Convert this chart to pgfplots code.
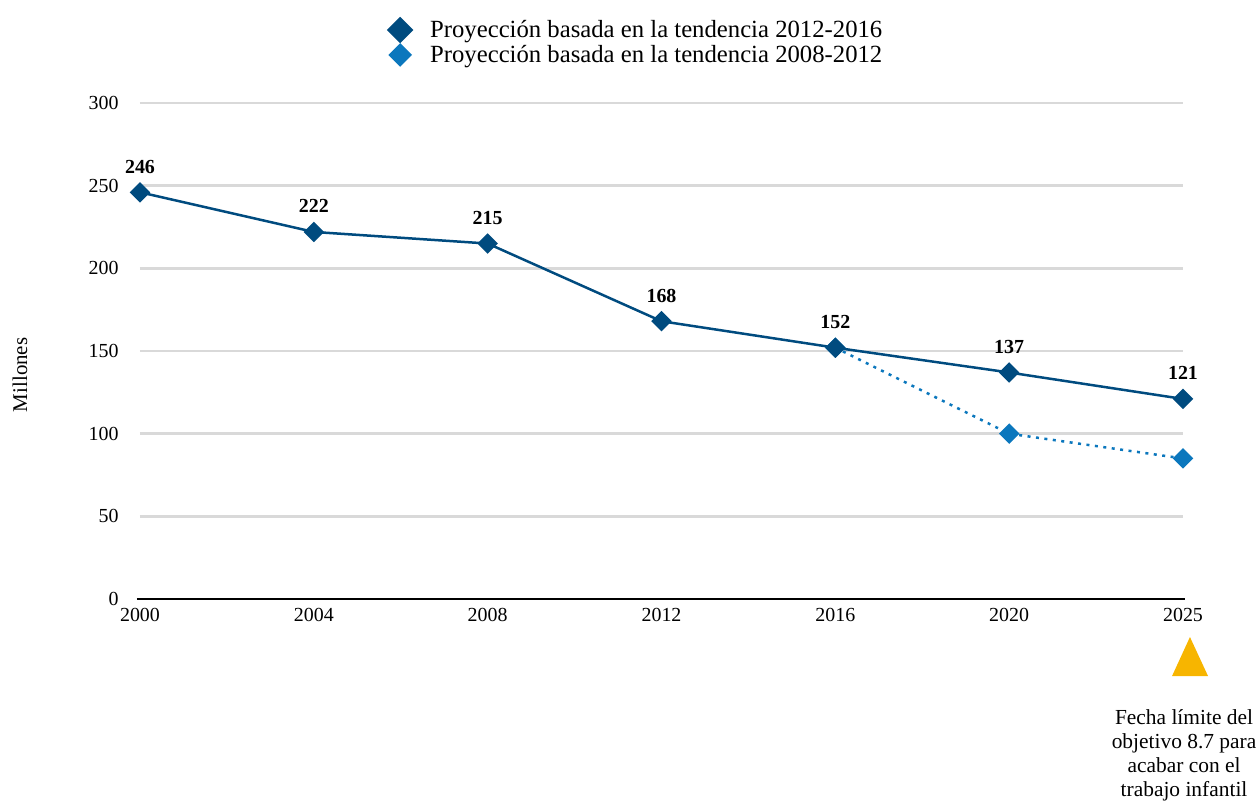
\documentclass[border=0pt]{standalone}
\usepackage{fontspec}
\setmainfont{Liberation Serif}
\usepackage{pgfplots}
\pgfplotsset{compat=1.18}
\definecolor{darkb}{HTML}{004B7F}
\definecolor{lightb}{HTML}{0B77BD}
\definecolor{gold}{HTML}{F7B500}
\definecolor{gridg}{HTML}{D9D9D9}
\pgfplotsset{
  legdark/.style={legend image code/.code={\draw[##1, mark size=8.1bp] plot[only marks] coordinates {(0bp,0bp)};}},
  leglight/.style={legend image code/.code={\draw[##1, mark size=7.1bp] plot[only marks] coordinates {(0bp,0bp)};}},
}
\begin{document}
\begin{tikzpicture}
\useasboundingbox (-140bp,-203bp) rectangle (1118bp,599bp);
\begin{axis}[
  scale only axis, width=1043bp, height=496bp,
  xmin=0, xmax=6, ymin=0, ymax=300,
  clip=false,
  axis line style={draw=none},
  major tick length=0pt,
  xtick={0,...,6}, xticklabels={2000,2004,2008,2012,2016,2020,2025},
  ytick={0,50,...,300},
  ymajorgrids, grid style={gridg, line width=2.5bp},
  tick label style={font=\fontsize{20}{24}\selectfont},
  /pgf/number format/assume math mode=true,
  yticklabel style={xshift=-18bp},
  xticklabel style={yshift=-6bp},
  ylabel={Millones},
  ylabel style={at={(axis description cs:-0.115,0.452)}, anchor=center, font=\fontsize{21}{24}\selectfont},
  legend cell align=left,
  legend style={draw=none, fill=none, inner sep=0pt,
    at={(axis description cs:0.2383,1.122)}, anchor=west,
    font=\fontsize{24.8}{25}\selectfont,
    nodes={anchor=west, inner sep=0pt, text height=20bp, text depth=5bp},
    column sep=18.5bp, row sep=0pt},
  reverse legend,
]
\draw[black, line width=2.5bp] (axis cs:-0.018,0) -- (axis cs:6.012,0);
\addplot[lightb, line width=2.5bp, dash pattern=on 3bp off 5.5bp,
  mark=square*, mark size=6bp, mark options={solid, rotate=45, fill=lightb},
  leglight]
  coordinates {(4,152) (5,100) (6,85)};
\addlegendentry{Proyección basada en la tendencia 2008-2012}
\addplot[darkb, line width=2.5bp,
  mark=square*, mark size=6bp, mark options={solid, rotate=45, fill=darkb},
  nodes near coords,
  every node near coord/.append style={font=\bfseries\fontsize{20}{24}\selectfont, anchor=base, yshift=19bp, text=black},
  legdark]
  coordinates {(0,246) (1,222) (2,215) (3,168) (4,152) (5,137) (6,121)};
\addlegendentry{Proyección basada en la tendencia 2012-2016}
\fill[gold] (axis cs:5.937,-46.6) -- (axis cs:6.144,-46.6) -- (axis cs:6.040,-23) -- cycle;
\node[align=center, font=\fontsize{21.5}{24}\selectfont, inner sep=0pt] at (axis cs:6.006,-94.5)
  {Fecha límite del\\objetivo 8.7 para\\acabar con el\\trabajo infantil};
\end{axis}
\end{tikzpicture}
\end{document}
